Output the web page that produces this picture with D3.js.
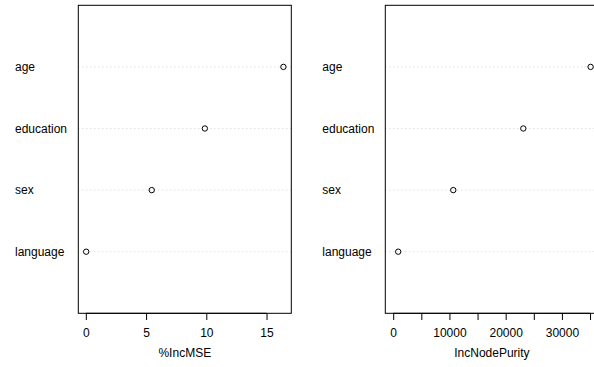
<!DOCTYPE html>
<html>
<head>
<meta charset="utf-8">
<script src="https://cdn.jsdelivr.net/npm/d3@7"></script>
<style>
  body { margin: 0; background: white; }
  svg { display: block; }
  text { font-family: "Liberation Sans", Arial, Helvetica, sans-serif; fill: black; }
</style>
</head>
<body>
<div id="chart"></div>
<script>
// variable importance, listed top to bottom
var variables = ["age", "education", "sex", "language"];
var incMSE = [16.4, 9.88, 5.47, 0.03];
var incNodePurity = [35100, 23130, 10680, 890];

var mseTicks = [0, 5, 10, 15];
var mseTickLabels = ["0", "5", "10", "15"];
var purityTicks = [0, 5000, 10000, 15000, 20000, 25000, 30000, 35000];
var purityTickLabels = ["0", "", "10000", "", "20000", "", "30000", ""];

var width = 594;
var height = 367;

var svg = d3
  .select("#chart")
  .append("svg")
  .attr("width", width)
  .attr("height", height);

var plotTop = 5.3;
var plotBottom = 313.3;

// one dotchart per measure
function dotPanel(values, xmin, ticks, tickLabels, title, left, right, labelX) {
  var lo = xmin == null ? d3.min(values) : xmin;
  var hi = d3.max(values);
  var pad = (hi - lo) * 0.04;

  var x = d3.scaleLinear().domain([lo - pad, hi + pad]).range([left, right]);
  var y = d3.scaleLinear().domain([0, variables.length + 1]).range([plotBottom, plotTop]);

  // rows: first variable at top
  var rows = variables.map(function (v, i) {
    return { name: v, value: values[i], pos: variables.length - i };
  });

  var g = svg.append("g");

  g.selectAll(".guide")
    .data(rows)
    .enter()
    .append("line")
    .attr("class", "guide")
    .attr("x1", left)
    .attr("x2", right)
    .attr("y1", (d) => y(d.pos))
    .attr("y2", (d) => y(d.pos))
    .style("stroke", "#d3d3d3")
    .style("stroke-dasharray", "1,3");

  g.selectAll(".pt")
    .data(rows)
    .enter()
    .append("circle")
    .attr("class", "pt")
    .attr("cx", (d) => x(d.value))
    .attr("cy", (d) => y(d.pos))
    .attr("r", 2.7)
    .style("fill", "none")
    .style("stroke", "black")
    .style("stroke-width", 1);

  g.selectAll(".lab")
    .data(rows)
    .enter()
    .append("text")
    .attr("class", "lab")
    .attr("x", labelX)
    .attr("y", (d) => y(d.pos) + 4.3)
    .style("font-size", "12px")
    .text((d) => d.name);

  // box
  g.append("rect")
    .attr("x", left)
    .attr("y", plotTop)
    .attr("width", right - left)
    .attr("height", plotBottom - plotTop)
    .style("fill", "none")
    .style("stroke", "black")
    .style("stroke-width", 1);

  // axis
  var axis = d3
    .axisBottom(x)
    .tickValues(ticks)
    .tickSize(6.7)
    .tickPadding(8)
    .tickFormat((d, i) => tickLabels[i]);

  var ax = g.append("g")
    .attr("transform", "translate(0," + plotBottom + ")")
    .call(axis);
  ax.select(".domain")
    .attr("d", "M" + x(ticks[0]) + ",0H" + x(ticks[ticks.length - 1]))
    .style("stroke", "black");
  ax.selectAll(".tick line").style("stroke", "black");
  ax.selectAll(".tick text")
    .style("font-size", "12px")
    .style("font-family", '"Liberation Sans", Arial, sans-serif')
    .attr("fill", "black");

  g.append("text")
    .attr("x", (left + right) / 2)
    .attr("y", 356.8)
    .attr("text-anchor", "middle")
    .style("font-size", "12px")
    .text(title);
}

dotPanel(incMSE, null, mseTicks, mseTickLabels, "%IncMSE", 78.3, 291.3, 15);
dotPanel(incNodePurity, 0, purityTicks, purityTickLabels, "IncNodePurity", 385.3, 598.5, 322.3);
</script>
</body>
</html>
